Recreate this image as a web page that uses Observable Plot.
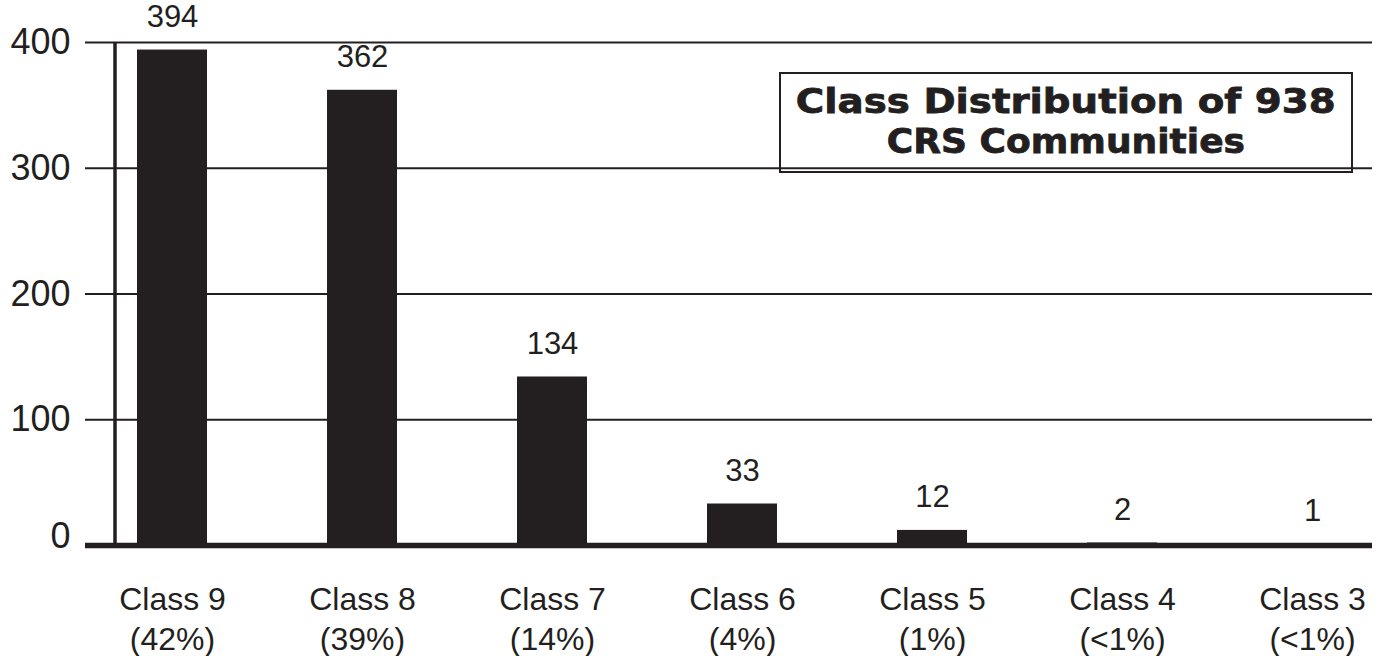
<!DOCTYPE html>
<html>
<head>
<meta charset="utf-8">
<script src="https://cdn.jsdelivr.net/npm/d3@7"></script>
<script src="https://cdn.jsdelivr.net/npm/@observablehq/plot@0.6"></script>
<style>
  body { margin: 0; background: #fff; }
  #chart { position: relative; width: 1380px; height: 656px; }
  #chart svg { display: block; }
  #title {
    position: absolute; left: 779px; top: 72px; width: 570px;
    box-sizing: content-box;
    border: 2px solid #231f20; color: #231f20;
    font-family: "DejaVu Sans", "Liberation Sans", sans-serif; font-weight: bold;
    font-size: 34px; line-height: 40px; text-align: center;
    -webkit-text-stroke: 0.8px #231f20;
    padding-top: 7px; height: 90px;
  }
  #title span { display: inline-block; transform-origin: center; }
  #title .l1 { transform: scaleX(1.14); }
  #title .l2 { transform: scaleX(1.06); }
</style>
</head>
<body>
<div id="chart">
  <div id="title"><span class="l1">Class Distribution of 938</span><br><span class="l2">CRS Communities</span></div>
</div>
<script>
// Community counts by CRS class
const classes = ["Class 9", "Class 8", "Class 7", "Class 6", "Class 5", "Class 4", "Class 3"];
const shares  = ["(42%)", "(39%)", "(14%)", "(4%)", "(1%)", "(<1%)", "(<1%)"];
const counts  = [394, 362, 134, 33, 12, 2, 1];
const yTicks  = [0, 100, 200, 300, 400];

const data = classes.map((cls, i) => ({cls, share: shares[i], count: counts[i]}));
const ink = "#231f20";

const chart = Plot.plot({
  width: 1380,
  height: 656,
  marginTop: 42,
  marginBottom: 111,
  marginLeft: 115,
  marginRight: 12,
  style: {fontFamily: "'Liberation Sans', Arial, sans-serif", color: ink, background: "#fff"},
  x: {domain: classes, paddingInner: 0.6325, paddingOuter: 0.105, align: 0.5},
  y: {domain: [0, 400]},
  marks: [
    // horizontal gridlines, reaching a little past the vertical axis
    Plot.ruleY(yTicks.slice(1), {stroke: ink, strokeWidth: 2, insetLeft: -30, insetRight: -4}),
    Plot.barY(data, {x: "cls", y: "count", fill: ink}),
    // heavy baseline
    Plot.ruleY([0], {stroke: ink, strokeWidth: 5.5, insetLeft: -30, insetRight: -4}),
    // value labels above the bars
    Plot.text(data, {x: "cls", y: "count", text: d => String(d.count), dy: -33, fontSize: 31, fill: ink}),
    Plot.axisY({ticks: yTicks.slice(1), tickSize: 0, tickPadding: 45, fontSize: 36, label: null, fill: ink}),
    // the zero label sits just above the heavy baseline
    Plot.axisY({ticks: [0], tickSize: 0, tickPadding: 45, fontSize: 36, label: null, fill: ink, dy: -9}),
    Plot.axisX({tickSize: 0, tickPadding: 42, fontSize: 32, label: null, fill: ink}),
    Plot.axisX({tickSize: 0, tickPadding: 82, fontSize: 32, label: null, fill: ink,
                tickFormat: d => shares[classes.indexOf(d)]})
  ]
});

// vertical axis line at the left edge of the plot frame
const xs = chart.scale("x"), ys = chart.scale("y");
d3.select(chart).append("line")
  .attr("x1", xs.range[0]).attr("x2", xs.range[0])
  .attr("y1", ys.apply(400)).attr("y2", ys.apply(0))
  .attr("stroke", ink).attr("stroke-width", 3.5);

document.getElementById("chart").prepend(chart);
</script>
</body>
</html>
